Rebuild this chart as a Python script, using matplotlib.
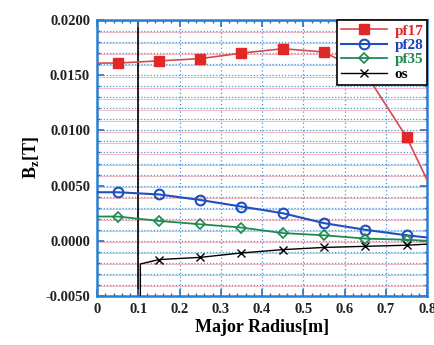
import matplotlib
matplotlib.use('Agg')
import matplotlib.pyplot as plt
from matplotlib.ticker import MultipleLocator, FormatStrFormatter

# data
r_pf17 = [0.0, 0.05, 0.15, 0.25, 0.35, 0.45, 0.55, 0.65, 0.75, 0.85]
b_pf17 = [0.0161, 0.0161, 0.0163, 0.0165, 0.0170, 0.0174, 0.0171, 0.0152, 0.0094, 0.0016]

r_pf28 = [0.0, 0.05, 0.15, 0.25, 0.35, 0.45, 0.55, 0.65, 0.75, 0.8]
b_pf28 = [0.0044, 0.0044, 0.0042, 0.0037, 0.0031, 0.0025, 0.0016, 0.0010, 0.0005, 0.0003]

r_pf35 = [0.0, 0.05, 0.15, 0.25, 0.35, 0.45, 0.55, 0.65, 0.75, 0.8]
b_pf35 = [0.0022, 0.0022, 0.0018, 0.0015, 0.0012, 0.0007, 0.0005, 0.0002, 0.0001, 0.0000]

r_os = [0.105, 0.105, 0.15, 0.25, 0.35, 0.45, 0.55, 0.65, 0.75, 0.8]
b_os = [-0.0060, -0.0021, -0.0017, -0.0015, -0.0011, -0.0008, -0.0006, -0.0005, -0.0004, -0.0003]

x_ticks = [0, 0.1, 0.2, 0.3, 0.4, 0.5, 0.6, 0.7, 0.8]
x_ticklabels = ['0', '0.1', '0.2', '0.3', '0.4', '0.5', '0.6', '0.7', '0.8']

serif = ['Liberation Serif', 'DejaVu Serif']

fig = plt.figure(figsize=(4.35, 3.45), dpi=100)
ax = fig.add_axes([0.223, 0.142, 0.759, 0.800])

# grid
for yv in [i * 0.001 for i in range(-5, 21)]:
    ax.axhline(yv - 0.00012, color='#f5b0b8', lw=0.6, zorder=0)
    ax.axhline(yv, color='#4a95d8', lw=0.9, ls=(0, (1, 1.5)), zorder=0)
for xv in [i * 0.1 for i in range(1, 8)]:
    ax.axvline(xv, color='#4a95d8', lw=0.9, ls=(0, (1, 2)), zorder=0)

ax.axvline(0.1, color='black', lw=1.2, zorder=1)

ax.plot(r_pf17, b_pf17, color='#d84a4a', lw=1.2, marker='s', ms=7,
        mfc='#e02828', mec='#e02828', markevery=list(range(1, 9)), label='pf17', zorder=3)
ax.plot(r_pf28, b_pf28, color='#2050c0', lw=1.5, marker='o', ms=7,
        mfc='none', mec='#2050c0', mew=1.5, markevery=list(range(1, 9)), label='pf28', zorder=3)
ax.plot(r_pf35, b_pf35, color='#1e8a50', lw=1.3, marker='D', ms=5,
        mfc='none', mec='#1e8a50', mew=1.2, markevery=list(range(1, 9)), label='pf35', zorder=3)
ax.plot(r_os, b_os, color='black', lw=1.0, marker='x', ms=6,
        markevery=list(range(2, 9)), label='os', zorder=3)

ax.set_xlim(0, 0.8)
ax.set_ylim(-0.005, 0.02)
ax.xaxis.set_minor_locator(MultipleLocator(0.02))
ax.yaxis.set_major_locator(MultipleLocator(0.005))
ax.yaxis.set_minor_locator(MultipleLocator(0.001))
ax.yaxis.set_major_formatter(FormatStrFormatter('%.4f'))
ax.set_xticks(x_ticks)
ax.set_xticklabels(x_ticklabels)
ax.tick_params(which='both', direction='in', colors='#2a6fc0', top=True, right=True,
               labelcolor='#222222')
ax.tick_params(which='major', length=5, width=1.2, pad=5)
ax.tick_params(which='minor', length=2.5, width=1)
for lab in ax.get_xticklabels() + ax.get_yticklabels():
    lab.set_family(serif)
    lab.set_fontsize(10.5)
    lab.set_fontweight('bold')
for s in ax.spines.values():
    s.set_color('#2a7fd0')
    s.set_linewidth(1.8)

ax.set_xlabel('Major Radius[m]', family=serif, fontsize=13, fontweight='bold', labelpad=2)
ax.set_ylabel(r'B$_\mathregular{z}$[T]', family=serif, fontsize=13, fontweight='bold', labelpad=3)

leg = ax.legend(loc='upper right', handlelength=3.0, frameon=True, fancybox=False,
                framealpha=1.0, borderpad=0.25, labelspacing=0.05, handletextpad=0.5,
                borderaxespad=0.0, prop={'family': serif, 'weight': 'bold', 'size': 11})
leg.set_zorder(5)
leg.get_frame().set_edgecolor('black')
leg.get_frame().set_linewidth(1.2)
for txt, c in zip(leg.get_texts(), ['#e02828', '#2040c0', '#1e8a50', 'black']):
    txt.set_color(c)

plt.savefig('out.png', dpi=100)
